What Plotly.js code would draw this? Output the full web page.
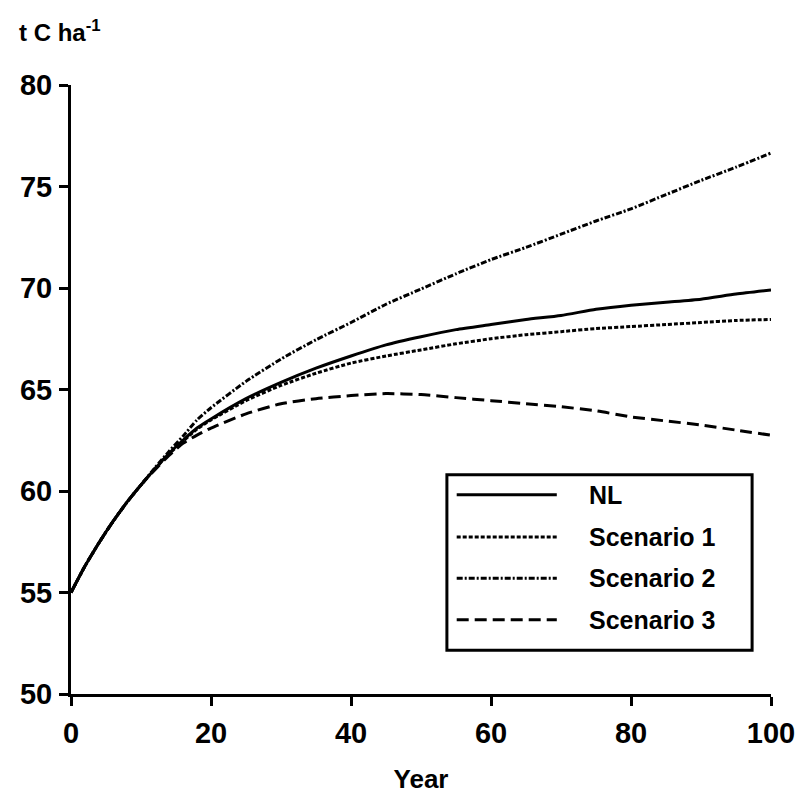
<!DOCTYPE html>
<html>
<head>
<meta charset="utf-8">
<script src="https://cdn.plot.ly/plotly-3.0.1.min.js"></script>
<style>html,body{margin:0;padding:0;background:#fff;}#chart{width:798px;height:798px;}</style>
</head>
<body>
<div id="chart"></div>
<script>
var years = [0, 2, 4, 6, 8, 10, 12, 14, 16, 18, 20, 25, 30, 35, 40, 45, 50, 55, 60, 65, 70, 75, 80, 85, 90, 95, 100];
var nl = [55.0, 56.3, 57.45, 58.5, 59.45, 60.3, 61.1, 61.85, 62.5, 63.1, 63.55, 64.55, 65.35, 66.05, 66.65, 67.2, 67.6, 67.95, 68.2, 68.45, 68.65, 68.95, 69.15, 69.3, 69.45, 69.7, 69.9];
var scenario1 = [55.0, 56.3, 57.45, 58.5, 59.45, 60.3, 61.1, 61.83, 62.45, 63.05, 63.5, 64.45, 65.2, 65.8, 66.3, 66.65, 66.95, 67.25, 67.5, 67.7, 67.85, 68.0, 68.1, 68.2, 68.3, 68.4, 68.45];
var scenario2 = [55.0, 56.3, 57.45, 58.5, 59.45, 60.3, 61.15, 61.95, 62.7, 63.5, 64.1, 65.4, 66.5, 67.45, 68.3, 69.2, 69.95, 70.7, 71.4, 72.0, 72.65, 73.3, 73.9, 74.6, 75.3, 75.95, 76.65];
var scenario3 = [55.0, 56.3, 57.45, 58.5, 59.45, 60.3, 61.05, 61.75, 62.35, 62.75, 63.1, 63.8, 64.3, 64.55, 64.7, 64.8, 64.75, 64.6, 64.45, 64.3, 64.15, 63.95, 63.65, 63.45, 63.25, 63.0, 62.75];
var seriesNames = ["NL", "Scenario 1", "Scenario 2", "Scenario 3"];
var xTicks = [0, 20, 40, 60, 80, 100];
var yTicks = [50, 55, 60, 65, 70, 75, 80];

var dashes = ["solid", "4px,2px", "6px,2px,2px,2px", "12px,6px"];
var allSeries = [nl, scenario1, scenario2, scenario3];
var FONT = "Liberation Sans, Arial, sans-serif";

var traces = allSeries.map(function (s, i) {
  return {
    x: years, y: s, type: "scatter", mode: "lines", name: seriesNames[i],
    line: {color: "#000", width: 3, dash: dashes[i], shape: "spline", smoothing: 0.6},
    showlegend: false, hoverinfo: "skip"
  };
});

// custom legend (box, sample lines, labels) in paper coordinates
var shapes = [{
  type: "rect", xref: "paper", yref: "paper",
  x0: 0.537, x1: 0.973, y0: 0.072, y1: 0.36,
  line: {color: "#000", width: 3}, fillcolor: "rgba(255,255,255,0)"
}];
var annotations = [];
var rowY = [0.327, 0.258, 0.19, 0.122];
seriesNames.forEach(function (n, i) {
  shapes.push({
    type: "line", xref: "paper", yref: "paper",
    x0: 0.551, x1: 0.694, y0: rowY[i], y1: rowY[i],
    line: {color: "#000", width: 3, dash: dashes[i]}
  });
  annotations.push({
    xref: "paper", yref: "paper", x: 0.737, y: rowY[i],
    xanchor: "left", yanchor: "middle", showarrow: false,
    text: "<b>" + n + "</b>", font: {family: FONT, size: 25, color: "#000"}
  });
});
annotations.push({
  xref: "paper", yref: "paper", x: -0.077, y: 1.088,
  xanchor: "left", yanchor: "middle", showarrow: false,
  text: "<b>t C ha<sup>-1</sup></b>", font: {family: FONT, size: 24, color: "#000"}
});

var layout = {
  width: 798, height: 798,
  margin: {l: 71, r: 27, t: 85, b: 104},
  paper_bgcolor: "#fff", plot_bgcolor: "#fff",
  showlegend: false,
  xaxis: {
    range: [0, 100], tickvals: xTicks, ticktext: xTicks.map(function (v) { return "<b>" + v + "</b>"; }),
    showline: true, linecolor: "#000", linewidth: 3, showgrid: false, zeroline: false,
    ticks: "outside", ticklen: 9, tickwidth: 3, tickcolor: "#000",
    ticklabelstandoff: 2,
    tickfont: {family: FONT, size: 29, color: "#000"},
    title: {text: "<b>Year</b>", font: {family: FONT, size: 26, color: "#000"}, standoff: 23}
  },
  yaxis: {
    range: [50, 80], tickvals: yTicks, ticktext: yTicks.map(function (v) { return "<b>" + v + "</b>"; }),
    showline: true, linecolor: "#000", linewidth: 3, showgrid: false, zeroline: false,
    ticks: "outside", ticklen: 9, tickwidth: 3, tickcolor: "#000",
    ticklabelstandoff: 1,
    tickfont: {family: FONT, size: 29, color: "#000"}
  },
  shapes: shapes,
  annotations: annotations
};

Plotly.newPlot("chart", traces, layout, {displayModeBar: false, staticPlot: true});
</script>
</body>
</html>
